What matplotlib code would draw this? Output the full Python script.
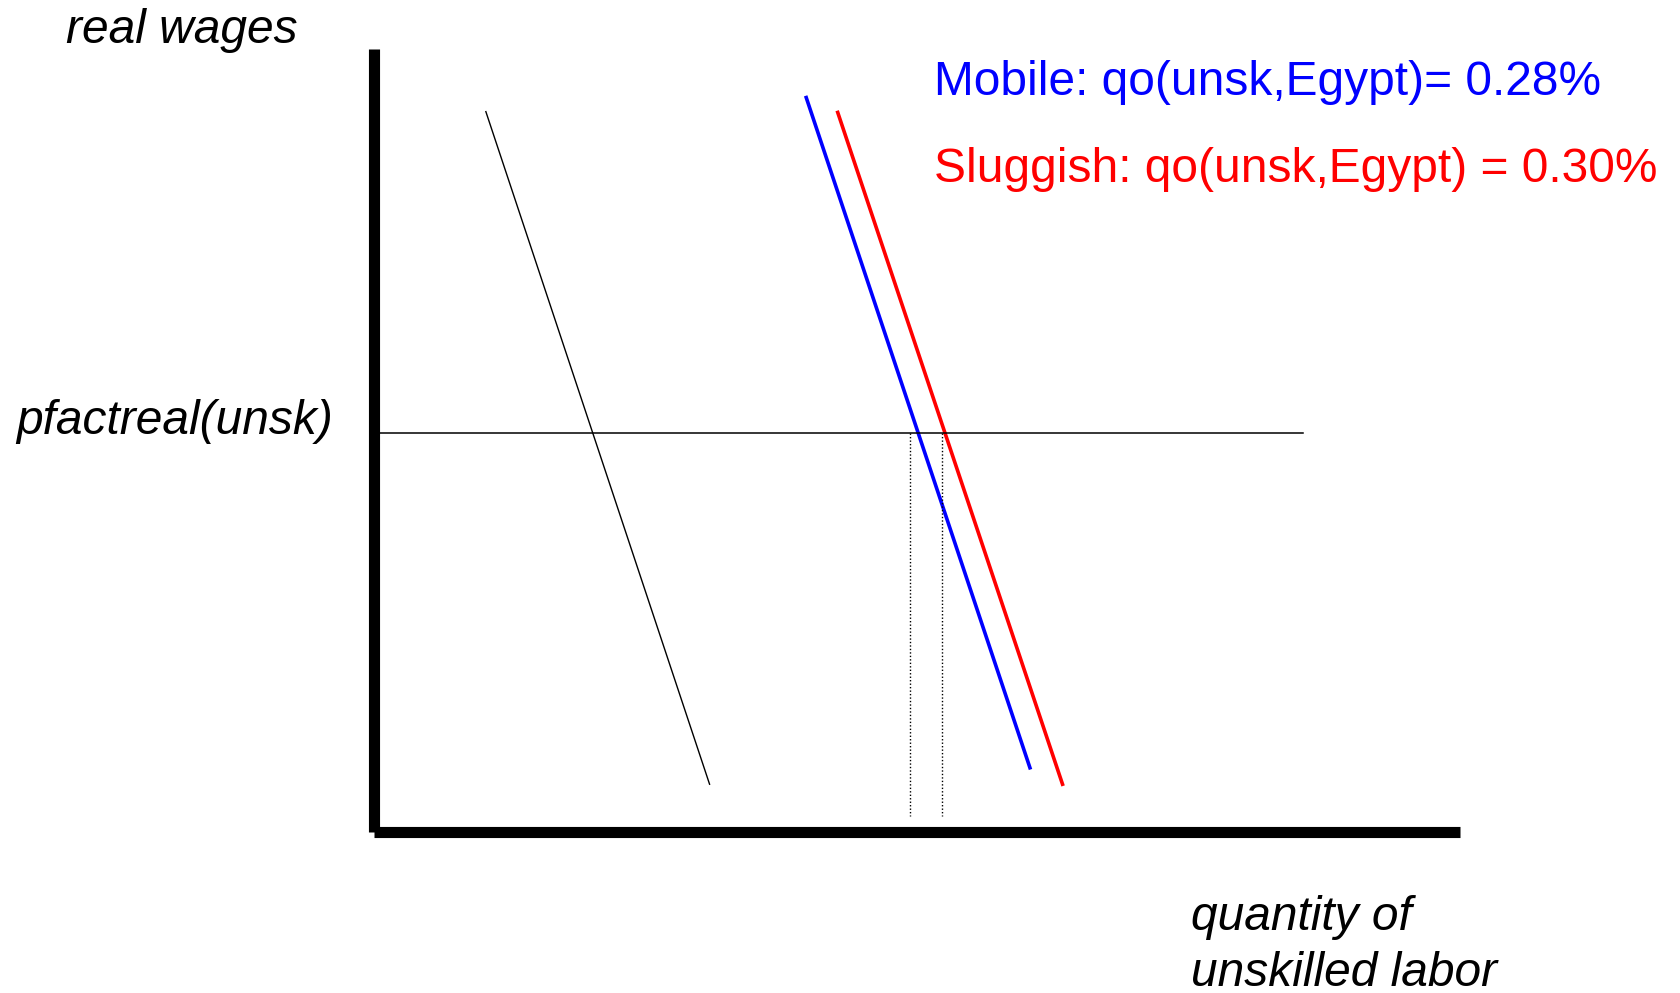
import matplotlib.pyplot as plt

# Schematic: labour market for unskilled labour (Egypt)
# coordinates are in "diagram units": x 0-100 along the quantity axis, y 0-100 along the wage axis
base_x = [10.3, 30.9]
base_y = [92.0, 6.1]
mobile_x = [39.8, 60.4]
mobile_y = [93.8, 8.2]
sluggish_x = [42.7, 63.4]
sluggish_y = [91.9, 6.1]
wage_level = 51.0
wage_line_x = [0.55, 85.5]
drop_x = [49.4, 52.3]
drop_bottom = 2.0

mobile_label = 'Mobile: qo(unsk,Egypt)= 0.28%'
sluggish_label = 'Sluggish: qo(unsk,Egypt) = 0.30%'

W, H = 1680, 993
fig = plt.figure(figsize=(W / 100, H / 100), dpi=100)
plt.rcParams['font.family'] = ['Liberation Sans', 'DejaVu Sans']

ax = fig.add_axes([374 / W, 1 - 832 / H, 1086 / W, (832 - 49) / H])
ax.set_xlim(0, 100)
ax.set_ylim(0, 100)
for s in ['top', 'right']:
    ax.spines[s].set_visible(False)
for s in ['left', 'bottom']:
    ax.spines[s].set_linewidth(8)
    ax.spines[s].set_capstyle('butt')
ax.set_xticks([])
ax.set_yticks([])

ax.plot(base_x, base_y, color='black', lw=1.0, clip_on=False)
ax.plot(mobile_x, mobile_y, color='#0000ff', lw=2.6, clip_on=False)
ax.plot(sluggish_x, sluggish_y, color='#ff0000', lw=2.6, clip_on=False)
ax.plot(wage_line_x, [wage_level, wage_level], color='black', lw=1.1, clip_on=False)
for dx in drop_x:
    ax.plot([dx, dx], [wage_level, drop_bottom], color='black', lw=1.0,
            linestyle=(0, (1, 1.5)), clip_on=False)


def put(x, y, s, **kw):
    fig.text(x / W, 1 - y / H, s, va='baseline', ha='left', **kw)


put(66, 43, 'real wages', fontsize=34.5, style='italic')
put(16, 434, 'pfactreal(unsk)', fontsize=34.5, style='italic')
put(1191, 930, 'quantity of', fontsize=34.5, style='italic')
put(1191, 986, 'unskilled labor', fontsize=34.5, style='italic')
put(934, 95, mobile_label, fontsize=34.5, color='#0000ff')
put(934, 182, sluggish_label, fontsize=34.5, color='#ff0000')

fig.savefig('out.png', dpi=100)
